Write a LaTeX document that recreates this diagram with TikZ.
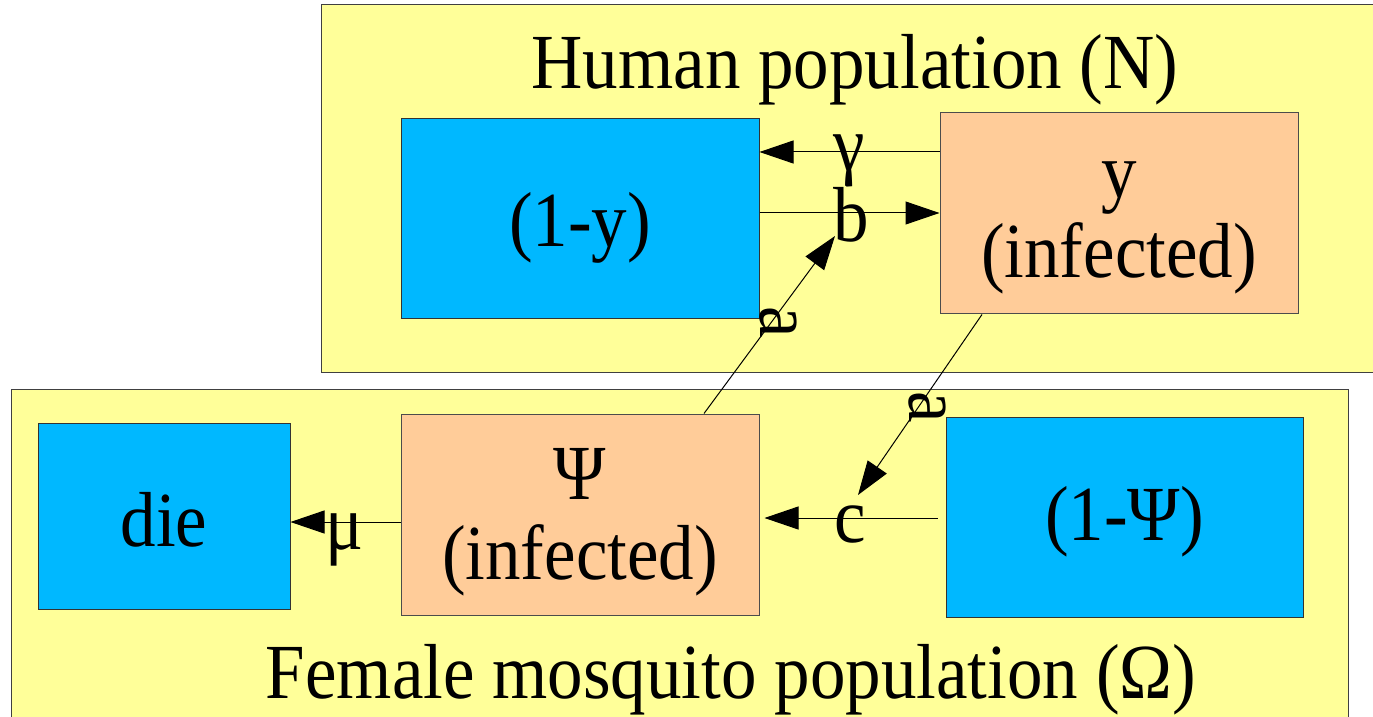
\documentclass[tikz,border=0pt]{standalone}
\usepackage{fontspec}
\setmainfont{Liberation Serif}[FakeStretch=0.91]
\usetikzlibrary{arrows.meta,calc}
\definecolor{popyellow}{RGB}{255,255,153}
\definecolor{boxblue}{RGB}{0,184,255}
\definecolor{boxorange}{RGB}{255,204,153}
\begin{document}
\begin{tikzpicture}[x=0.5pt,y=-0.5pt,
  popbox/.style={draw=black!75,line width=0.6pt,fill=popyellow,rectangle,anchor=north west,inner sep=0pt},
  bluebox/.style={draw=black!80,line width=0.5pt,fill=boxblue,rectangle,inner sep=0pt},
  orangebox/.style={draw=black!70,line width=0.5pt,fill=boxorange,rectangle,inner sep=0pt},
  bigtext/.style={font=\fontsize{39}{40}\selectfont,inner sep=0pt,align=center},
  rate/.style={font=\fontsize{39}{40}\selectfont,inner sep=0pt},
  arr/.style={draw=black,line width=0.5pt,-{Triangle[length=17pt,width=11.5pt]}}]
\clip (0,0) rectangle (1373,717);
\fill[white] (0,0) rectangle (1373,717);
% population boxes
\node[popbox,minimum width=540pt,minimum height=184pt] (hum) at (321,4) {};
\node[popbox,minimum width=668.5pt,minimum height=175pt] (mos) at (11,389) {};
\node[bigtext] (humt) at (855,70) {Human population (N)};
\node[bigtext] (most) at (731,680) {Female mosquito population (Ω)};
% compartments
\node[bluebox,minimum width=179pt,minimum height=100pt] (sus) at (580,219) {};
\node[orangebox,minimum width=179pt,minimum height=100.5pt] (inf) at (1119,213.5) {};
\node[bluebox,minimum width=126pt,minimum height=93pt] (die) at (164,516) {};
\node[orangebox,minimum width=179pt,minimum height=100.5pt] (psi) at (580,514.5) {};
\node[bluebox,minimum width=178.5pt,minimum height=100pt] (mus) at (1124.5,517) {};
\node[bigtext] (sust) at (580,228) {(1-y)};
\node[bigtext] (inft) at (1119,228) {y\\(infected)};
\node[bigtext] (diet) at (164,520) {die};
\node[bigtext] (psit) at (580,522) {Ψ\\(infected)};
\node[bigtext] (must) at (1124.5,522) {(1-Ψ)};
% free ends
\coordinate (bite1) at (835,236);
\coordinate (bite2) at (858,495);
% connectors
\draw[arr] (inf.west |- 0,152) -- (sus.east |- 0,152);
\draw[arr] (sus.east |- 0,213) -- (inf.west |- 0,213);
\draw[arr] (psi.north -| 704,0) -- (bite1);
\draw[arr] (inf.south -| 982,0) -- (bite2);
\draw[arr] ($(mus.west |- 0,518)+(-8,0)$) -- ($(psi.east |- 0,518)+(5,0)$);
\draw[arr] (psi.west |- 0,522) -- (die.east |- 0,522);
% rate labels
\node[rate,anchor=base] (lg) at (849,171) {γ};
\node[rate,anchor=base] (lb) at (851,242) {b};
\node[rate,anchor=base] (lc) at (850,542) {c};
\node[rate,anchor=base] (lm) at (345,549) {μ};
\node[rate,rotate=-90] (la1) at (778,322) {a};
\node[rate,rotate=-90] (la2) at (927,407) {a};
\end{tikzpicture}
\end{document}
